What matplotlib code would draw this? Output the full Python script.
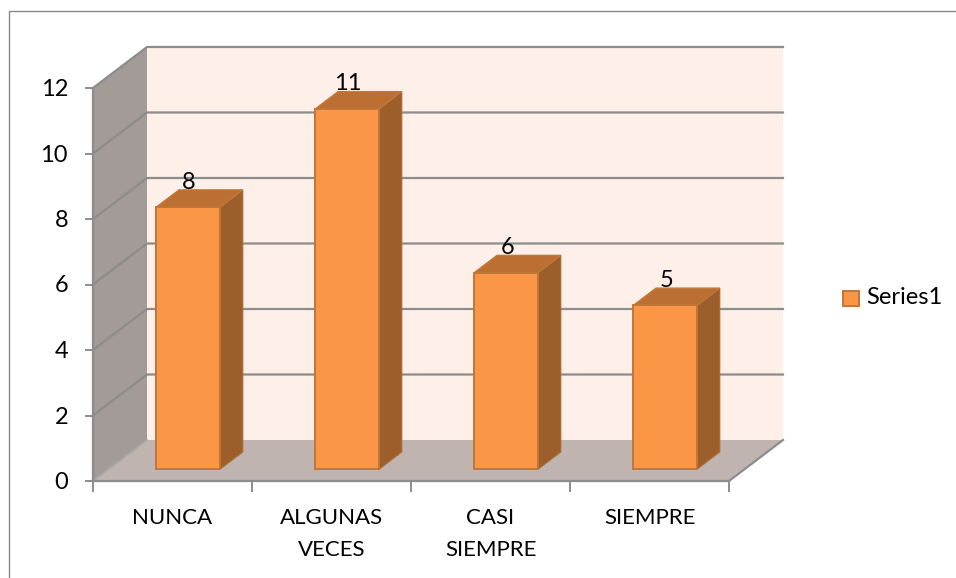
import matplotlib
matplotlib.use("Agg")
import matplotlib.pyplot as plt
from matplotlib.patches import Polygon, Rectangle

categories = ["NUNCA", "ALGUNAS\nVECES", "CASI\nSIEMPRE", "SIEMPRE"]
values = [8, 11, 6, 5]
y_ticks = [0, 2, 4, 6, 8, 10, 12]
series_name = "Series1"

W, H = 956, 578
X0, XSTEP = 93.0, 159.0
Y0, YSTEP = 481.0, 32.75
DX = 54.0 / XSTEP
DY = 41.0 / YSTEP

plt.rcParams['font.family'] = ['Lato', 'DejaVu Sans']
fig = plt.figure(figsize=(W / 100, H / 100), dpi=100)
ax = fig.add_axes([0, 0, 1, 1])
ax.set_xlim(-X0 / XSTEP, (W - X0) / XSTEP)
ax.set_ylim((Y0 - H) / YSTEP, Y0 / YSTEP)
ax.axis("off")

def P(x, y, d=0.0):
    return (x + d * DX, y + d * DY)

n = len(categories)
top = max(y_ticks)
grid = "#8c8c8c"

# frame: only the top and left edges fall inside the picture
fx = (9 - X0) / XSTEP
fy = (Y0 - 10.5) / YSTEP
ax.plot([fx, fx, (W - X0) / XSTEP], [(Y0 - H) / YSTEP, fy, fy],
        color="#8a8a8a", lw=1.0, zorder=0, solid_joinstyle="miter")

# walls and floor
ax.add_patch(Polygon([P(0, 0, 1), P(n, 0, 1), P(n, top, 1), P(0, top, 1)],
                     fc="#feefe8", ec="none", zorder=1))
ax.add_patch(Polygon([P(0, 0), P(0, 0, 1), P(0, top, 1), P(0, top)],
                     fc="#a29b97", ec="none", zorder=1))
ax.add_patch(Polygon([P(0, 0), P(n, 0), P(n, 0, 1), P(0, 0, 1)],
                     fc="#bfb4b0", ec="none", zorder=1))

for t in y_ticks:
    a, b, c = P(0, t), P(0, t, 1), P(n, t, 1)
    if t > 0:
        ax.plot([a[0], b[0], c[0]], [a[1], b[1], c[1]], color=grid, lw=1.6, zorder=2,
                solid_joinstyle="miter")
    else:
        ax.plot([a[0], b[0]], [a[1], b[1]], color="#a8a8a8", lw=1.2, zorder=2)
    ax.plot([a[0] - 7 / XSTEP, a[0]], [a[1], a[1]], color=grid, lw=1.4, zorder=3)
    ax.text(a[0] - 25 / XSTEP, t - 1.5 / YSTEP, str(t), ha="right", va="center", fontsize=17,
            color="black", zorder=6)

# axis lines
ax.plot([0, 0], [0, top], color=grid, lw=1.6, zorder=3)
ax.plot([0, n], [0, 0], color=grid, lw=1.6, zorder=3)
e = P(n, 0); f = P(n, 0, 1)
ax.plot([e[0], f[0]], [e[1], f[1]], color=grid, lw=1.6, zorder=3)
for i in range(n + 1):
    ax.plot([i, i], [0, -10 / YSTEP], color=grid, lw=1.4, zorder=3)

# bars
edge = "#c0763a"
d1, d2 = 0.29, 0.71
for i, (lab, v) in enumerate(zip(categories, values)):
    x1, x2 = i + 0.30, i + 0.70
    ax.add_patch(Polygon([P(x2, 0, d1), P(x2, 0, d2), P(x2, v, d2), P(x2, v, d1)],
                         fc="#9c5f2b", ec="#ad6a32", lw=1.0, zorder=4))
    ax.add_patch(Polygon([P(x1, v, d1), P(x2, v, d1), P(x2, v, d2), P(x1, v, d2)],
                         fc="#bb6f33", ec="#c27838", lw=1.0, zorder=4))
    ax.add_patch(Polygon([P(x1, 0, d1), P(x2, 0, d1), P(x2, v, d1), P(x1, v, d1)],
                         fc="#fb9646", ec=edge, lw=1.4, zorder=5))
    mx, my = P(i + 0.5, v, d1)
    ax.text(mx + 1 / XSTEP, my + 25 / YSTEP, str(v), ha="center", va="center", fontsize=17,
            color="black", zorder=6)
    ax.text(i + 0.5, -27 / YSTEP, lab, ha="center", va="top",
            fontsize=16, color="black", zorder=6, linespacing=1.78)

# legend
lx = (843 - X0) / XSTEP
ly = (Y0 - 298) / YSTEP
ax.add_patch(Rectangle((lx, ly - 7.5 / YSTEP), 16 / XSTEP, 15 / YSTEP,
                       fc="#fb9646", ec=edge, lw=1.4, zorder=5))
ax.text(lx + 23 / XSTEP, ly, series_name, ha="left", va="center", fontsize=17, color="black")

fig.savefig("out.png", dpi=100)
